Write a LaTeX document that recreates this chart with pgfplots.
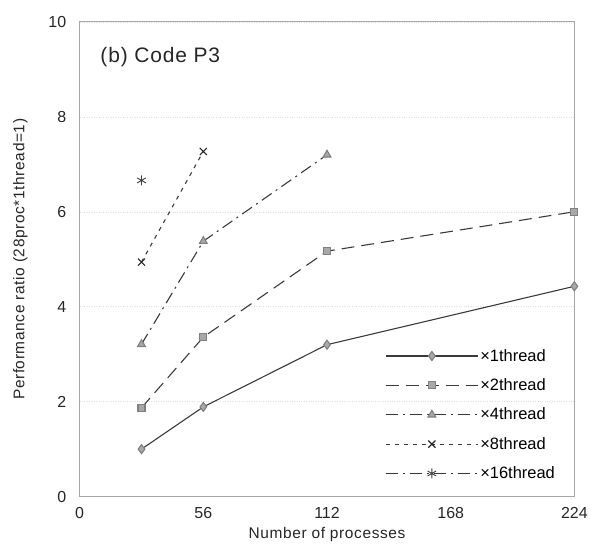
\documentclass[border=0pt]{standalone}
\usepackage{fontspec}
\setmainfont{Liberation Sans}
\newfontfamily\widefont[LetterSpace=4]{Liberation Sans}
\usepackage{pgfplots}
\pgfplotsset{compat=1.18}
\definecolor{markgray}{HTML}{A8A8A8}
\definecolor{linegray}{HTML}{3A3A3A}
\begin{document}
\begin{tikzpicture}
\begin{axis}[
    scale only axis,
    width=496bp, height=476bp,
    xmin=0, xmax=224, ymin=0, ymax=10,
    xtick={0,56,112,168,224},
    ytick={0,2,4,6,8,10},
    major tick length=0pt,
    /pgf/number format/assume math mode=true,
    tick label style={font=\fontsize{16bp}{18bp}\selectfont, color=black!85},
    xticklabel style={yshift=-7bp},
    yticklabel style={xshift=-10bp},
    xlabel={Number of processes},
    ylabel={Performance ratio (28proc*1thread=1)},
    label style={font=\widefont\fontsize{15.5bp}{17bp}\selectfont, color=black!85},
    xlabel style={yshift=-2bp},
    ylabel style={yshift=14bp},
    axis line style={gray!70, line width=0.9pt},
    ymajorgrids,
    grid style={gray!25, dotted, line width=0.5pt},
    clip=false,
    legend cell align=left,
    legend style={draw=none, fill=none, at={(rel axis cs:0.965,0.03)}, anchor=south east,
        font=\fontsize{16.5bp}{18bp}\selectfont, row sep=12bp, inner sep=0pt},
    legend image code/.code={
        \draw[#1, mark repeat=2, mark phase=2] plot coordinates {(0bp,0bp) (46bp,0bp) (92bp,0bp)};
    },
]
% keep the page the same size as the reference
\path (rel axis cs:-0.161,-0.128) rectangle (rel axis cs:1.0302,1.046);
\node[anchor=west, font=\widefont\fontsize{21bp}{24bp}\selectfont, color=black!85] at (rel axis cs:0.035,0.925) {(b) Code P3};

\addplot[linegray, line width=1.1pt, mark=diamond*, mark size=4.5bp,
    mark options={solid, fill=markgray, draw=gray}]
    coordinates {(28,1.0) (56,1.89) (112,3.2) (224,4.43)};
\addlegendentry{×1thread}

\addplot[linegray, line width=1.1pt, dash pattern=on 13bp off 7bp, mark=square*, mark size=3.5bp,
    mark options={solid, fill=markgray, draw=gray}]
    coordinates {(28,1.87) (56,3.36) (112,5.17) (224,6.0)};
\addlegendentry{×2thread}

\addplot[linegray, line width=1.1pt, dash pattern=on 12bp off 5bp on 2bp off 5bp, mark=triangle*, mark size=4.5bp,
    mark options={solid, fill=markgray, draw=gray}]
    coordinates {(28,3.21) (56,5.38) (112,7.2)};
\addlegendentry{×4thread}

\addplot[linegray, line width=1.1pt, dash pattern=on 4bp off 5bp, mark=x, mark size=5bp,
    mark options={solid, draw=black!85, line width=1.1pt}]
    coordinates {(28,4.94) (56,7.27)};
\addlegendentry{×8thread}

\addplot[linegray, line width=1.1pt, dash pattern=on 12bp off 5bp on 2bp off 5bp, mark=asterisk, mark size=5bp,
    mark options={solid, draw=black!75, line width=0.9pt}]
    coordinates {(28,6.66)};
\addlegendentry{×16thread}
\end{axis}
\end{tikzpicture}
\end{document}
